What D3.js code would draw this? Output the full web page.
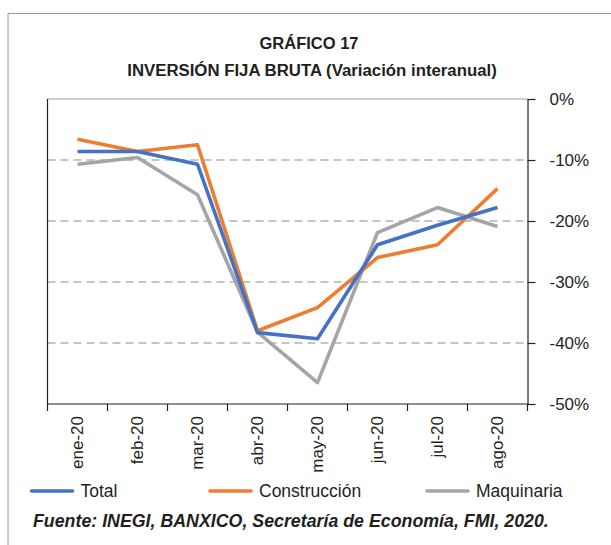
<!DOCTYPE html>
<html>
<head>
<meta charset="utf-8">
<script src="https://cdn.jsdelivr.net/npm/d3@7"></script>
<style>
  body { margin: 0; background: #fff; }
  text { font-family: "Liberation Sans", Arial, sans-serif; fill: #231f20; }
</style>
</head>
<body>
<div id="chart"></div>
<script>
// Data (variación interanual, %)
const months = ["ene-20", "feb-20", "mar-20", "abr-20", "may-20", "jun-20", "jul-20", "ago-20"];
const total = [-8.6, -8.6, -10.7, -38.3, -39.3, -23.9, -20.7, -17.8];
const construccion = [-6.6, -8.6, -7.5, -38.0, -34.2, -26.0, -23.9, -14.7];
const maquinaria = [-10.7, -9.6, -15.7, -38.2, -46.5, -21.9, -17.8, -20.9];
const yTicks = [0, -10, -20, -30, -40, -50];

const seriesNames = ["Total", "Construcción", "Maquinaria"];
const colors = ["#4472c4", "#ed7d31", "#a5a5a5"];
const series = [total, construccion, maquinaria].map((values, i) => ({
    name: seriesNames[i], color: colors[i], values
}));

const W = 611, H = 545;
const plot = { left: 47.5, right: 527.5, top: 99, bottom: 404 };

const svg = d3.select("#chart").append("svg")
    .attr("width", W)
    .attr("height", H);

// Outer frame
svg.append("path")
    .attr("d", `M8,${H} V13.5 H${W}`)
    .attr("fill", "none")
    .attr("stroke", "#9a9a9a")
    .attr("stroke-width", 1);

// Titles
svg.append("text")
    .attr("x", 309).attr("y", 49)
    .attr("text-anchor", "middle")
    .style("font-size", "16.5px").style("font-weight", "bold")
    .text("GRÁFICO 17");
svg.append("text")
    .attr("x", 312).attr("y", 76)
    .attr("text-anchor", "middle")
    .style("font-size", "16.8px").style("font-weight", "bold")
    .text("INVERSIÓN FIJA BRUTA (Variación interanual)");

const x = d3.scaleBand().domain(months).range([plot.left, plot.right]);
const y = d3.scaleLinear().domain([-50, 0]).range([plot.bottom, plot.top]);

// Gridlines (dashed)
svg.append("g")
    .selectAll("line")
    .data(yTicks.filter(d => d !== 0 && d !== -50))
    .join("line")
    .attr("x1", plot.left).attr("x2", plot.right)
    .attr("y1", d => y(d)).attr("y2", d => y(d))
    .attr("stroke", "#b3b3b3")
    .attr("stroke-width", 1.3)
    .attr("stroke-dasharray", "8,5");

// Plot frame: top light, left dark
svg.append("line")
    .attr("x1", plot.left).attr("x2", plot.right)
    .attr("y1", y(0)).attr("y2", y(0))
    .attr("stroke", "#a0a0a0").attr("stroke-width", 1.2);
svg.append("line")
    .attr("x1", plot.left).attr("x2", plot.left)
    .attr("y1", y(0)).attr("y2", y(-50))
    .attr("stroke", "#231f20").attr("stroke-width", 1.2);

// Right axis
const yAxis = svg.append("g")
    .attr("transform", `translate(${plot.right},0)`)
    .call(d3.axisRight(y).tickValues(yTicks).tickFormat(d => d + "%")
        .tickSize(8).tickSizeOuter(0).tickPadding(14));
yAxis.select(".domain").attr("stroke", "#231f20").attr("stroke-width", 1.2);
yAxis.selectAll(".tick line").attr("stroke", "#231f20").attr("stroke-width", 1.2);
yAxis.selectAll("text")
    .style("font-size", "17px")
    .style("font-family", "'Liberation Sans', Arial, sans-serif")
    .attr("fill", "#231f20");

// Bottom axis line and boundary ticks
svg.append("line")
    .attr("x1", plot.left).attr("x2", plot.right)
    .attr("y1", y(-50)).attr("y2", y(-50))
    .attr("stroke", "#231f20").attr("stroke-width", 1.2);
const bounds = months.map(m => x(m)).concat([x(months[months.length - 1]) + x.bandwidth()]);
svg.append("g")
    .selectAll("line")
    .data(bounds)
    .join("line")
    .attr("x1", d => d).attr("x2", d => d)
    .attr("y1", y(-50)).attr("y2", y(-50) + 7)
    .attr("stroke", "#231f20").attr("stroke-width", 1.2);

// Bottom labels (rotated)
const xAxis = svg.append("g")
    .attr("transform", `translate(0,${plot.bottom})`)
    .call(d3.axisBottom(x).tickSize(0).tickPadding(0));
xAxis.select(".domain").remove();
xAxis.selectAll("text")
    .style("font-size", "17px")
    .style("font-family", "'Liberation Sans', Arial, sans-serif")
    .attr("fill", "#231f20")
    .attr("text-anchor", "end")
    .attr("transform", "rotate(-90)")
    .attr("x", -12)
    .attr("y", 0)
    .attr("dy", "0.35em");

// Lines
const line = d3.line()
    .x((d, i) => x(months[i]) + x.bandwidth() / 2)
    .y(d => y(d));

svg.append("g")
    .selectAll("path")
    .data(series.slice().reverse())
    .join("path")
    .attr("d", d => line(d.values))
    .attr("fill", "none")
    .attr("stroke", d => d.color)
    .attr("stroke-width", 3.6)
    .attr("stroke-linejoin", "round");

// Legend
const legendX = [31.5, 210, 427];
const legend = svg.append("g")
    .selectAll("g")
    .data(series)
    .join("g")
    .attr("transform", (d, i) => `translate(${legendX[i]},491)`);
legend.append("line")
    .attr("x1", 0).attr("x2", 41)
    .attr("stroke", d => d.color)
    .attr("stroke-width", 3.6)
    .attr("stroke-linecap", "round");
legend.append("text")
    .attr("x", 49).attr("dy", "0.36em")
    .style("font-size", "17.5px")
    .text(d => d.name);

// Source
svg.append("text")
    .attr("x", 33).attr("y", 527)
    .style("font-size", "17.8px")
    .style("font-weight", "bold")
    .style("font-style", "italic")
    .text("Fuente: INEGI, BANXICO, Secretaría de Economía, FMI, 2020.");
</script>
</body>
</html>
